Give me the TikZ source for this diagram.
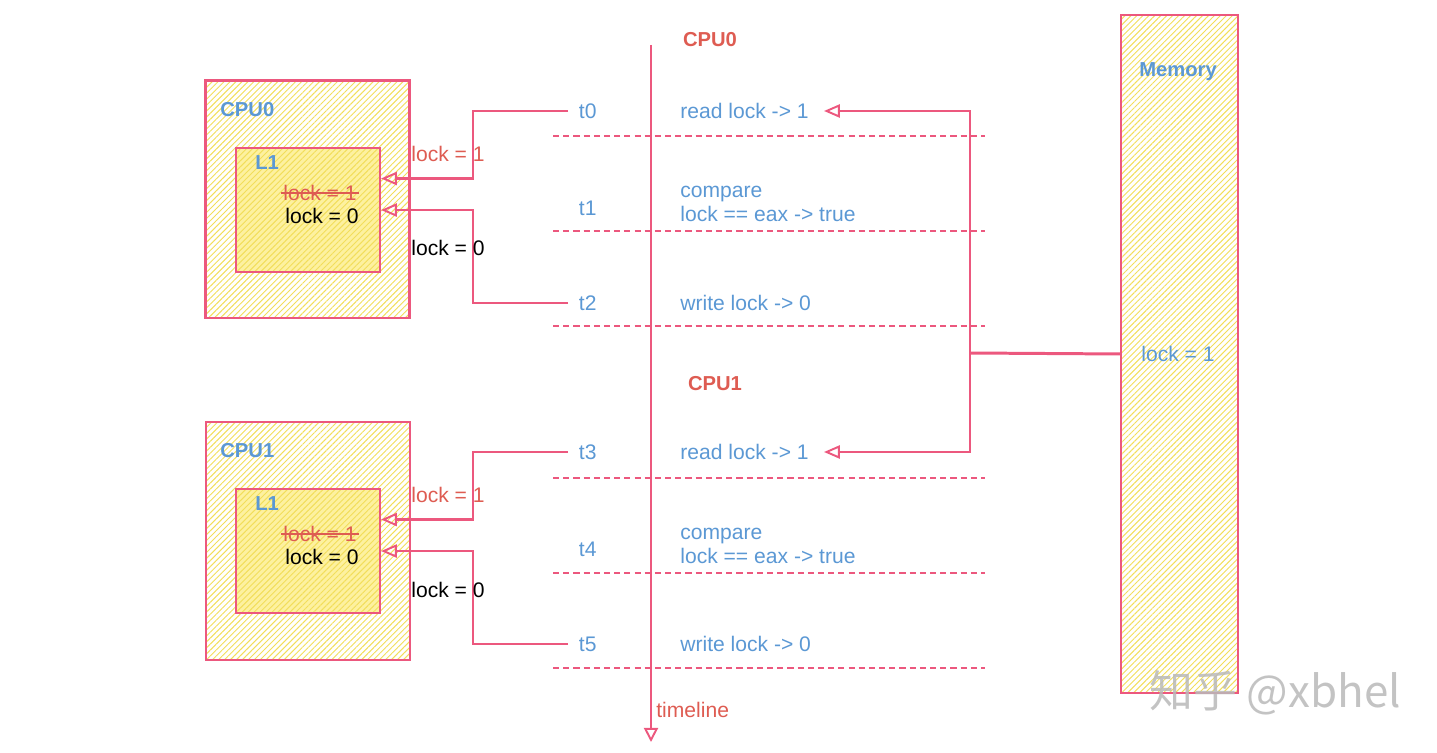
\documentclass[tikz,border=0pt]{standalone}
\usepackage{fontspec}
\setmainfont{Liberation Sans}
\newfontfamily\cjk{Noto Sans CJK SC}
\usetikzlibrary{arrows.meta,patterns.meta,calc}
\definecolor{blueC}{RGB}{91,152,212}
\definecolor{redT}{RGB}{222,92,82}
\definecolor{lineC}{RGB}{236,88,126}
\definecolor{hatchC}{RGB}{242,222,90}
\definecolor{fillL}{RGB}{253,241,160}
\tikzset{
  pinkline/.style={draw=lineC, line width=1.2pt},
  conn/.style={pinkline, -{Triangle[open,length=9pt,width=7.5pt,line width=1.1pt]}},
  sepline/.style={draw=lineC, line width=1pt, dash pattern=on 3.5pt off 2.3pt},
  hatchbox/.style={draw=lineC, line width=1.2pt, inner sep=0pt, anchor=north west,
    pattern={Lines[angle=45,distance=2.4pt,line width=0.55pt]}, pattern color=hatchC},
  l1box/.style={hatchbox, preaction={fill=fillL}},
  txt/.style={font=\fontsize{12}{13.6}\selectfont, inner sep=0pt},
  bluetxt/.style={txt, text=blueC, anchor=west},
  title/.style={font=\bfseries\fontsize{11.5}{13}\selectfont, inner sep=0pt},
  tlab/.style={txt, text=blueC, anchor=west, inner xsep=6pt},
}
\begin{document}
\begin{tikzpicture}[x=0.02cm,y=-0.02cm]
\useasboundingbox (0,0) rectangle (1437,753);

% ---- CPU0 ----
\node[hatchbox, minimum width=4.08cm, minimum height=4.76cm] (cpu0) at (205,80) {};
\node[l1box, minimum width=2.88cm, minimum height=2.48cm] (l1a) at (235,147) {};
\node[title, text=blueC, anchor=west] (cpu0lab) at (220,110) {CPU0};
\node[title, text=blueC, anchor=west] (l1alab) at (255,163) {L1};
\node[txt, text=redT] (olda) at (320,193) {lock = 1};
\draw[redT, line width=0.9pt] ($(olda.west)+(-2,0)$) -- ($(olda.east)+(2,0)$);
\node[txt, text=black] (newa) at (322,216) {lock = 0};

% ---- CPU1 ----
\node[hatchbox, minimum width=4.08cm, minimum height=4.76cm] (cpu1) at (205,421) {};
\node[l1box, minimum width=2.88cm, minimum height=2.48cm] (l1b) at (235,488) {};
\node[title, text=blueC, anchor=west] (cpu1lab) at (220,451) {CPU1};
\node[title, text=blueC, anchor=west] (l1blab) at (255,504) {L1};
\node[txt, text=redT] (oldb) at (320,534) {lock = 1};
\draw[redT, line width=0.9pt] ($(oldb.west)+(-2,0)$) -- ($(oldb.east)+(2,0)$);
\node[txt, text=black] (newb) at (322,557) {lock = 0};

% ---- Memory ----
\node[hatchbox, minimum width=2.34cm, minimum height=13.56cm] (mem) at (1120,14) {};
\node[title, text=blueC] (memlab) at (1178,72) {Memory};
\node[txt, text=blueC] (memval) at (1178,354) {lock = 1};

% ---- timeline ----
\coordinate (tltop) at (651,45);
\coordinate (tlbot) at (651,742);
\draw[pinkline, -{Triangle[open,length=8pt,width=8pt,line width=1.1pt]}] (tltop) -- (tlbot);
\node[txt, text=redT, anchor=west] (tltxt) at (656,710) {timeline};
\node[title, text=redT] (h0) at (710,40) {CPU0};
\node[title, text=redT] (h1) at (715,384) {CPU1};

% separators
\foreach \y in {136,231,326,478,573,668}
  \draw[sepline] (553,\y) -- (985,\y);

% time labels
\node[tlab] (t0) at (568,111) {t0};
\node[tlab] (t1) at (568,208) {t1};
\node[tlab] (t2) at (568,303) {t2};
\node[tlab] (t3) at (568,452) {t3};
\node[tlab] (t4) at (568,549) {t4};
\node[tlab] (t5) at (568,644) {t5};

% operations
\node[bluetxt] (read0) at (680,111) {read lock -> 1};
\node[bluetxt, align=left] (cmp0) at (680,204) {compare\\lock == eax -> true};
\node[bluetxt] (write0) at (680,303) {write lock -> 0};
\node[bluetxt] (read1) at (680,452) {read lock -> 1};
\node[bluetxt, align=left] (cmp1) at (680,546) {compare\\lock == eax -> true};
\node[bluetxt] (write1) at (680,644) {write lock -> 0};

% CPU0 connectors
\draw[conn] (t0.west) -- ++(-95,0) |- ($(l1a.north east)!0.25!(l1a.south east)$);
\node[txt, text=redT, anchor=west] (v1a) at (411,154) {lock = 1};
\draw[conn] (t2.west) -- ++(-95,0) |- (l1a.east);
\node[txt, text=black, anchor=west] (v0a) at (411,248) {lock = 0};

% CPU1 connectors
\draw[conn] (t3.west) -- ++(-95,0) |- ($(l1b.north east)!0.25!(l1b.south east)$);
\node[txt, text=redT, anchor=west] (v1b) at (411,495) {lock = 1};
\draw[conn] (t5.west) -- ++(-95,0) |- (l1b.east);
\node[txt, text=black, anchor=west] (v0b) at (411,590) {lock = 0};

% memory connectors
\coordinate (j) at (970,353);
\draw[pinkline, line width=1.7pt] (mem.west) -- (j);
\draw[conn] (j) |- ($(read0.east)+(15,0)$);
\draw[conn] (j) |- ($(read1.east)+(15,0)$);

% watermark
\node[font=\cjk\fontsize{25}{25}\selectfont, text=gray!55, opacity=0.85] (wm) at (1275,693) {知乎 @xbhel};
\end{tikzpicture}
\end{document}
